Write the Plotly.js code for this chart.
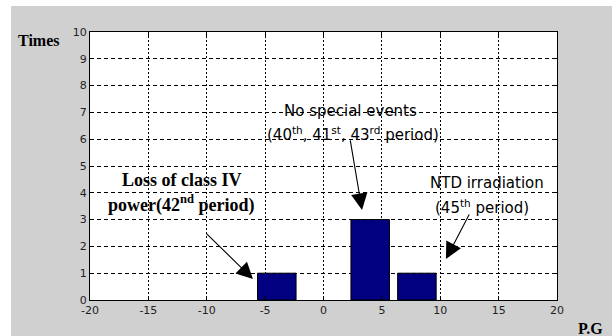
<!DOCTYPE html>
<html>
<head>
<meta charset="utf-8">
<script src="https://cdn.plot.ly/plotly-3.0.1.min.js"></script>
<style>
  html, body { margin: 0; padding: 0; background: #ffffff; }
  #chart { width: 612px; height: 336px; }
</style>
</head>
<body>
<div id="chart"></div>
<script>
// Histogram of power-group (P.G) deviations
const binCenters = [-4, 4, 8];
const counts = [1, 3, 1];
const xTicks = [-20, -15, -10, -5, 0, 5, 10, 15, 20];
const yTicks = [0, 1, 2, 3, 4, 5, 6, 7, 8, 9, 10];

const bars = {
  type: 'bar',
  x: binCenters,
  y: counts,
  width: binCenters.map(() => 3.3),
  marker: { color: '#000080', line: { color: '#000000', width: 1 } },
  hoverinfo: 'skip'
};

const tickFont = { family: 'DejaVu Sans, Arial, sans-serif', size: 11, color: '#222222' };
const serifBold = { family: 'Liberation Serif, Times New Roman, serif', size: 18, color: '#000000', weight: 'bold' };
const sansNote = { family: 'DejaVu Sans, Arial, sans-serif', size: 15, color: '#000000' };

function note(text, x, y, font) {
  return { text: text, x: x, y: y, xref: 'x', yref: 'y', showarrow: false,
           xanchor: 'center', yanchor: 'middle', font: font };
}
function arrow(x, y, ax, ay) {
  return { text: '', x: x, y: y, xref: 'x', yref: 'y', ax: ax, ay: ay,
           showarrow: true, arrowhead: 2, arrowsize: 3, arrowwidth: 1.1,
           arrowcolor: '#000000', standoff: 0, startstandoff: 0 };
}

const layout = {
  width: 612,
  height: 336,
  margin: { l: 90, r: 55, t: 32, b: 36 },
  paper_bgcolor: '#d0d0d0',
  plot_bgcolor: '#ffffff',
  showlegend: false,
  bargap: 0,
  xaxis: {
    range: [-20, 20],
    tickvals: xTicks,
    ticktext: xTicks.map(String),
    showgrid: true, gridcolor: '#000000', gridwidth: 1, griddash: '2px,2px',
    zeroline: false,
    showline: true, linecolor: '#000000', linewidth: 1, mirror: 'ticks',
    ticks: 'inside', ticklen: 4, tickcolor: '#000000',
    tickfont: tickFont, fixedrange: true
  },
  yaxis: {
    range: [0, 10],
    tickvals: yTicks,
    ticktext: yTicks.map(String),
    showgrid: true, gridcolor: '#000000', gridwidth: 1, griddash: '4px,3px',
    zeroline: false,
    showline: true, linecolor: '#000000', linewidth: 1, mirror: 'ticks',
    ticks: 'inside', ticklen: 4, tickcolor: '#000000',
    tickfont: tickFont, fixedrange: true
  },
  shapes: [
    // white margins along the top and left edges of the figure
    { type: 'rect', xref: 'paper', yref: 'paper', x0: -0.3, x1: 1.3, y0: 1.097, y1: 1.3,
      fillcolor: '#ffffff', line: { width: 0 }, layer: 'below' },
    { type: 'rect', xref: 'paper', yref: 'paper', x0: -0.3, x1: -0.169, y0: -0.3, y1: 1.3,
      fillcolor: '#ffffff', line: { width: 0 }, layer: 'below' }
  ],
  annotations: [
    { text: 'Times', xref: 'paper', yref: 'paper', x: -0.111, y: 0.970,
      xanchor: 'center', yanchor: 'middle', showarrow: false,
      font: { family: 'Liberation Serif, Times New Roman, serif', size: 16, color: '#000000', weight: 'bold' } },
    { text: 'P.G', xref: 'paper', yref: 'paper', x: 1.071, y: -0.108,
      xanchor: 'center', yanchor: 'middle', showarrow: false,
      font: { family: 'Liberation Serif, Times New Roman, serif', size: 16, color: '#000000', weight: 'bold' } },

    note('Loss of class IV', -12.12, 4.48, serifBold),
    note('power(42<sup>nd</sup> period)', -12.16, 3.58, serifBold),
    arrow(-6.04, 0.78, -48, -47),

    note('No special events', 2.27, 7.05, sansNote),
    note('(40<sup>th</sup>, 41<sup>st</sup>, 43<sup>rd</sup> period)', 2.53, 6.19, sansNote),
    arrow(3.30, 3.36, -12, -71),

    note('NTD irradiation', 14.0, 4.37, sansNote),
    note('(45<sup>th</sup> period)', 13.58, 3.47, sansNote),
    arrow(10.49, 1.53, 24, -46)
  ]
};

Plotly.newPlot('chart', [bars], layout, { displayModeBar: false, staticPlot: true });
</script>
</body>
</html>
